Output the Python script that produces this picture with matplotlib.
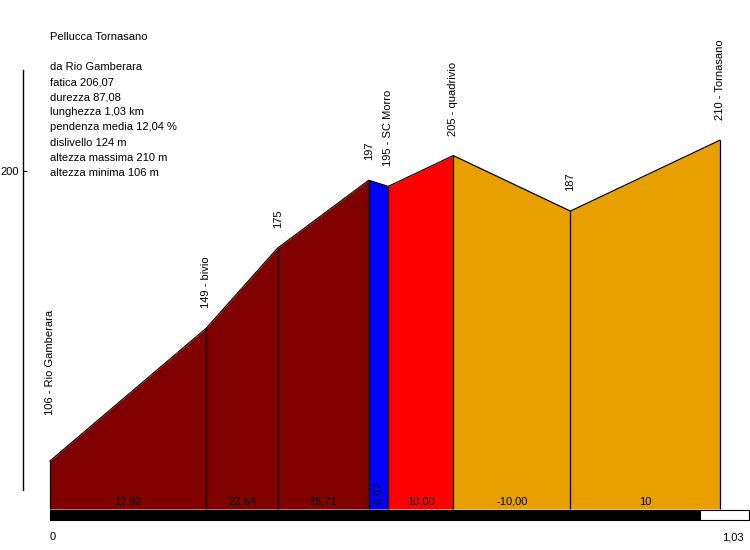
import matplotlib.pyplot as plt
from matplotlib.patches import Rectangle
import matplotlib.transforms as mtransforms

# profile data (distance in km, elevation in m)
dist = [0.0, 0.24, 0.35, 0.49, 0.52, 0.62, 0.80, 1.03]
elev = [106, 149, 175, 197, 195, 205, 187, 210]
point_names = ['106 - Rio Gamberara', '149 - bivio', '175', '197', '195 - SC Morro',
               '205 - quadrivio', '187', '210 - Tornasano']
grad_labels = ['17,92', '23,64', '15,71', '-6,67', '10,00', '-10,00', '10']
seg_colors = ['#800000', '#800000', '#800000', '#0000FF', '#FF0000', '#E8A000', '#E8A000']

title = 'Pellucca Tornasano'
info_lines = ['da Rio Gamberara', 'fatica 206,07', 'durezza 87,08', 'lunghezza 1,03 km',
              'pendenza media 12,04 %', 'dislivello 124 m', 'altezza massima 210 m',
              'altezza minima 106 m']

W, H = 750, 550
plt.rcParams['font.family'] = ['Liberation Sans', 'DejaVu Sans']
fig = plt.figure(figsize=(W / 100, H / 100), dpi=100)
ax = fig.add_axes([0, 0, 1, 1])

# pixel mapping: x 50px -> 0 km, 720px -> 1.03 km ; y 171px -> 200 m, 461px -> 106 m
kx = (720 - 50) / dist[-1]
ky = (461 - 171) / (200 - 106)
ax.set_xlim(-50 / kx, (W - 50) / kx)
ax.set_ylim(200 - (H - 171) / ky, 200 + 171 / ky)


def px_y(p):
    return 200 - (p - 171) / ky


base = px_y(509)

for i in range(len(dist) - 1):
    ax.fill_between([dist[i], dist[i + 1]], [elev[i], elev[i + 1]], base,
                    color=seg_colors[i], linewidth=0)
ax.plot(dist, elev, color='black', lw=0.9)
ax.vlines(dist, base, elev, color='black', lw=0.9)

# gradient labels
for i, g in enumerate(grad_labels):
    xm = (dist[i] + dist[i + 1]) / 2
    if dist[i + 1] - dist[i] < 0.05:
        ax.text(xm, px_y(494), g, rotation=90, ha='center', va='center', fontsize=8)
    else:
        ax.text(xm, px_y(502), g, ha='center', va='center', fontsize=8)

# point labels
off = mtransforms.offset_copy(ax.transData, fig=fig, x=0, y=20, units='dots')
off_first = mtransforms.offset_copy(ax.transData, fig=fig, x=0, y=46, units='dots')
for i, name in enumerate(point_names):
    tr = off_first if i == 0 else off
    ax.text(dist[i], elev[i], name, rotation=90, ha='center', va='bottom',
            fontsize=8, transform=tr)

# distance bar
ax.add_patch(Rectangle((0, px_y(520)), 1.0, px_y(510) - px_y(520),
                       facecolor='black', edgecolor='black', lw=0.8))
ax.add_patch(Rectangle((1.0, px_y(520)), (W - 50) / kx - 1.0 - 0.001, px_y(510) - px_y(520),
                       facecolor='white', edgecolor='black', lw=0.8))
ax.text(0, px_y(537), '0', ha='left', va='center', fontsize=8)
ax.text(dist[-1] + 24 / kx, px_y(537), '1,03', ha='right', va='center', fontsize=8)

# info text
ax.text(0, px_y(37), title, ha='left', va='center', fontsize=8)
for j, line in enumerate(info_lines):
    ax.text(0, px_y(67 + 15.1 * j), line, ha='left', va='center', fontsize=8)

# elevation axis
for s in ['top', 'right', 'bottom']:
    ax.spines[s].set_visible(False)
ax.spines['left'].set_position(('axes', 23 / W))
ax.spines['left'].set_bounds(px_y(490), px_y(70))
ax.spines['left'].set_linewidth(1.0)
ax.set_yticks([200])
ax.set_yticklabels(['200'])
ax.tick_params(axis='y', direction='in', length=3, labelsize=8, pad=3)
ax.set_xticks([])

fig.savefig('out.png', dpi=100)
